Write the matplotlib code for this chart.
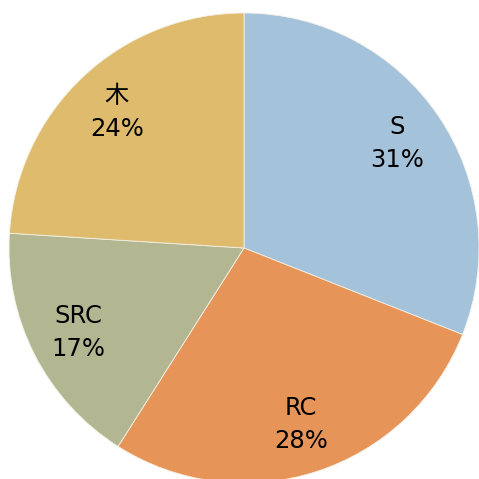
import matplotlib
matplotlib.use("Agg")
import matplotlib.pyplot as plt

categories = ["S", "RC", "SRC", "木"]
shares = [31, 28, 17, 24]
colors = ["#a5c2db", "#e69458", "#b3b791", "#debb6d"]

plt.rcParams['font.family'] = ['DejaVu Sans', 'Noto Sans CJK JP']

W = 479
fig = plt.figure(figsize=(W / 100, W / 100), dpi=100)
ax = fig.add_axes([9 / W, -4 / W, 470 / W, 470 / W])

labels = [f"{c}\n{v}%" for c, v in zip(categories, shares)]
wedges, texts = ax.pie(shares, labels=labels, colors=colors, startangle=90,
                       counterclock=False, labeldistance=0.79,
                       wedgeprops=dict(edgecolor="#f4f0e6", linewidth=0.6))
for t in texts:
    t.set_ha("center")
    t.set_va("center")
    t.set_fontsize(17.5)
    t.set_linespacing(1.45)
    t.set_family(['DejaVu Sans', 'Noto Sans CJK JP'])
ax.set_xlim(-1, 1)
ax.set_ylim(-1, 1)
ax.set_aspect("equal")
ax.axis("off")
fig.savefig("out.png", dpi=100)
